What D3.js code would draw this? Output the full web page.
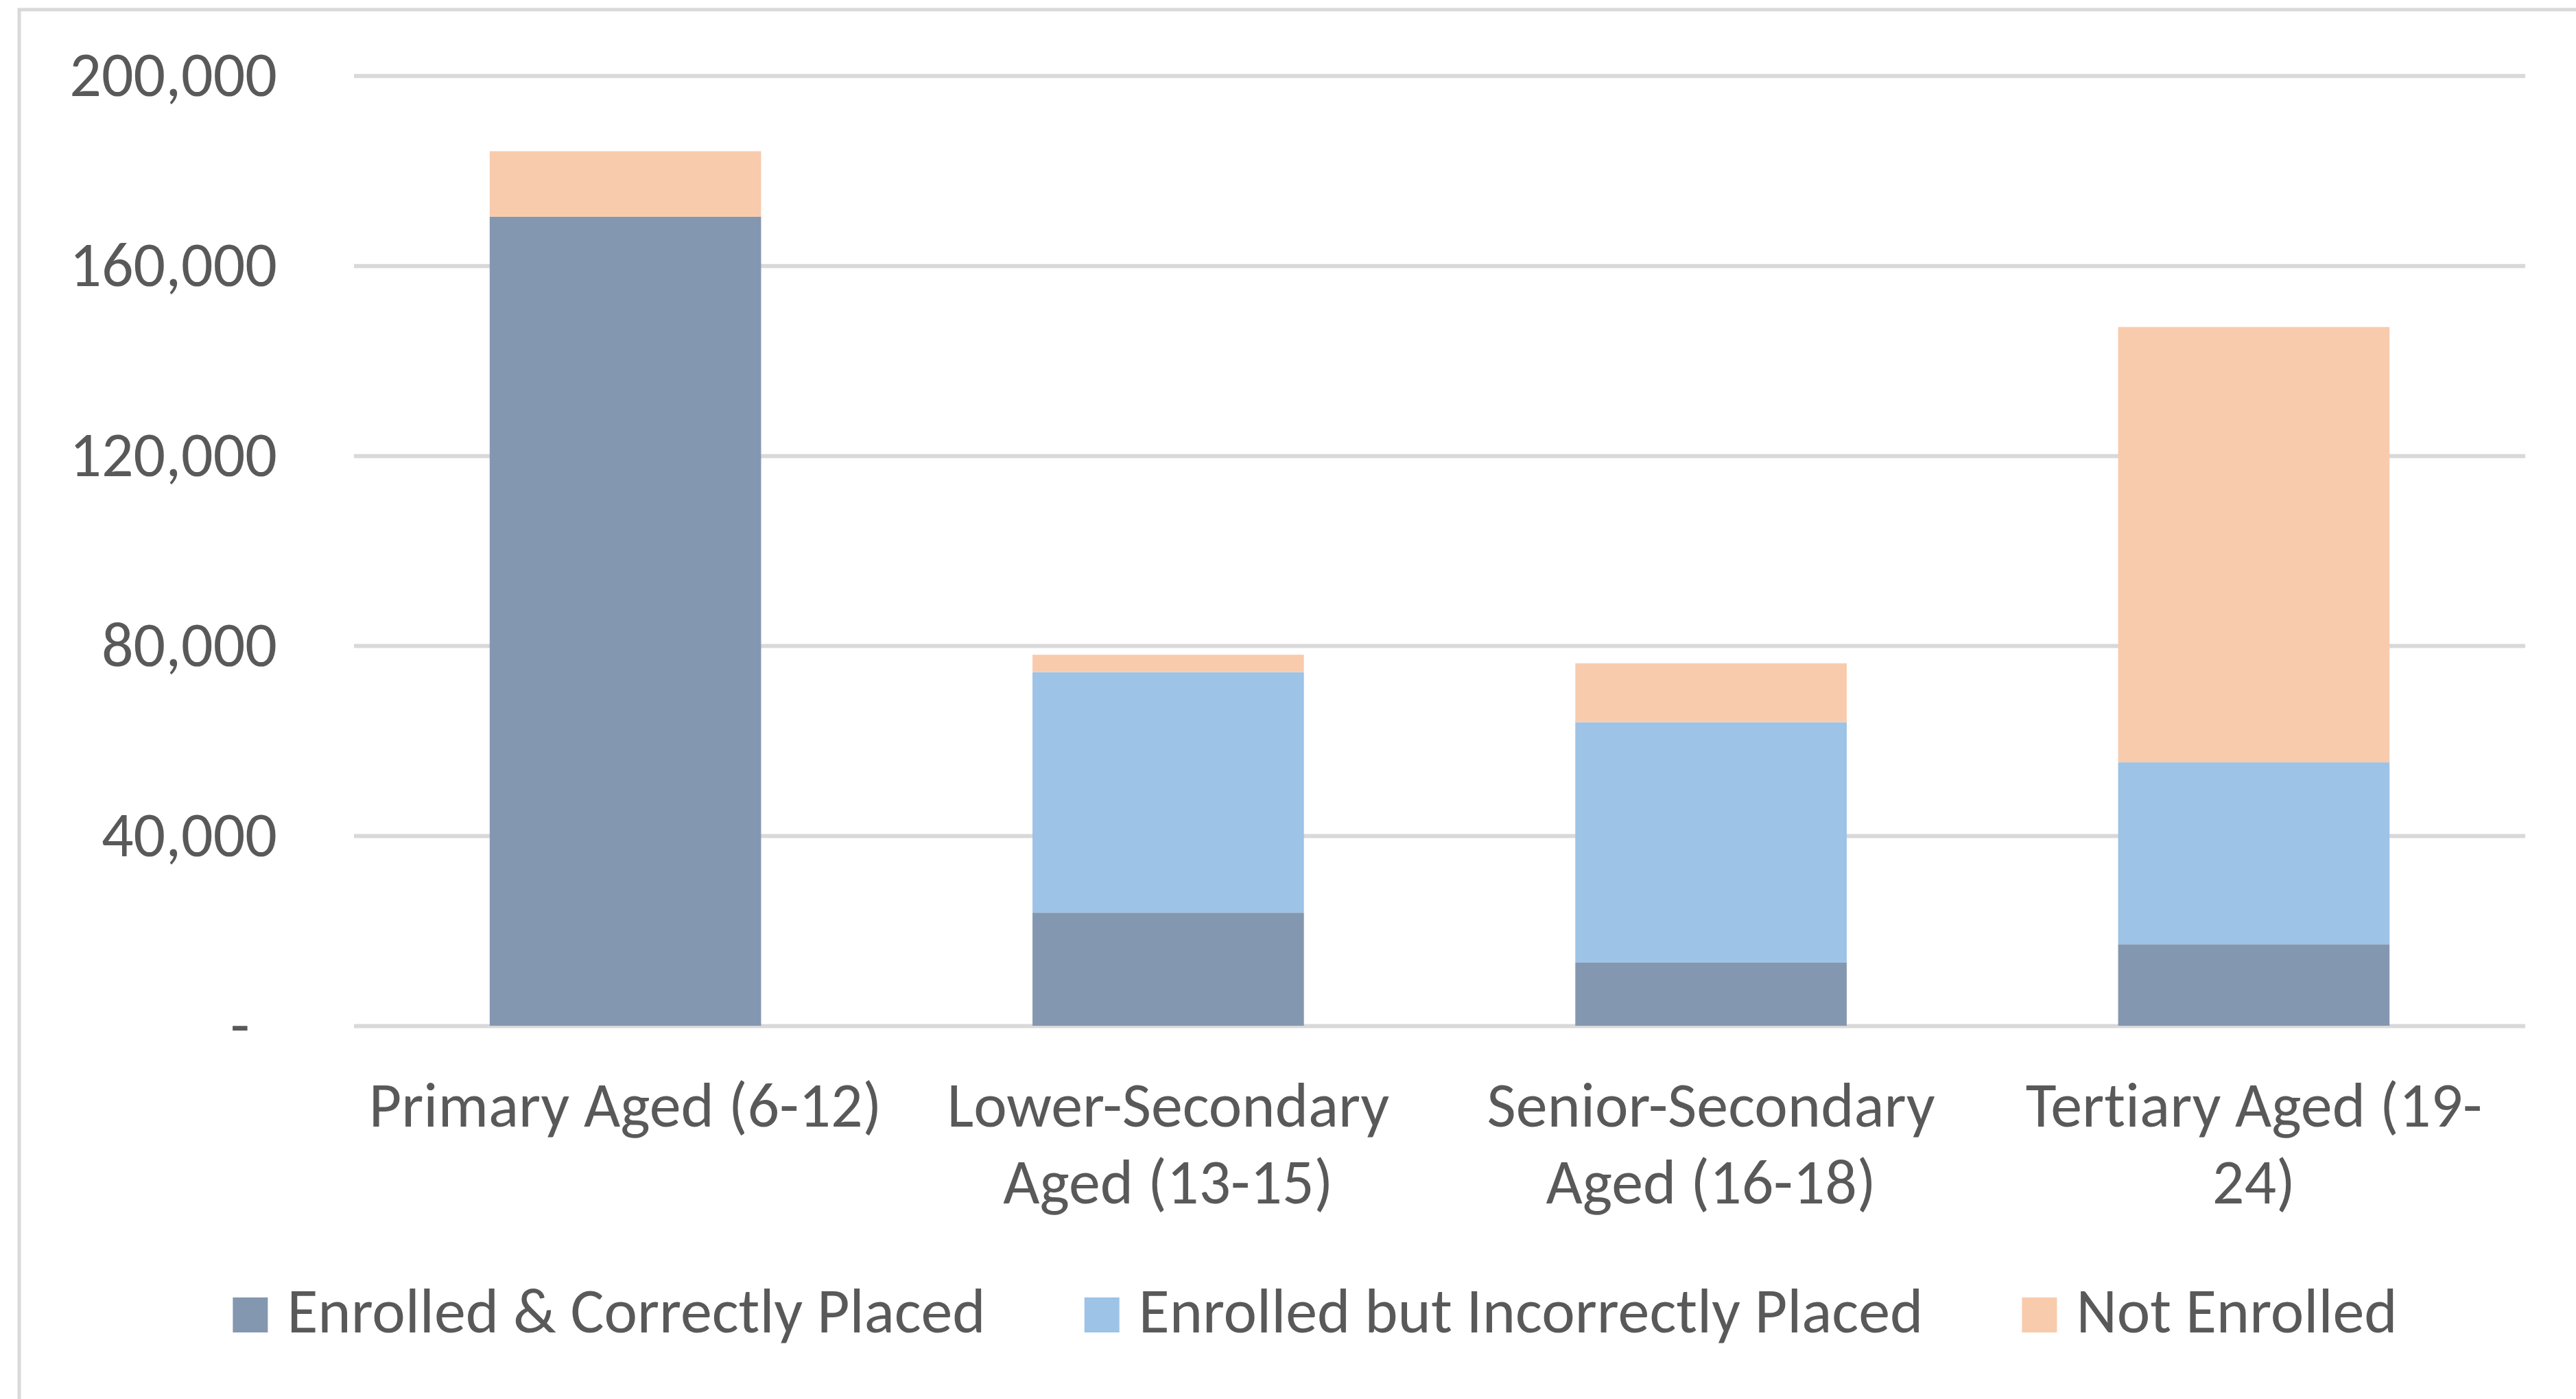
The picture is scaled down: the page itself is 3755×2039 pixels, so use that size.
<!DOCTYPE html>
<html lang="en">
<head>
  <meta charset="UTF-8" />
  <title>Enrolment by age group</title>
  <style>
    body {
      margin: 0;
      background-color: white;
    }
    svg {
      display: block;
      font-family: Carlito, Calibri, 'Open Sans', sans-serif;
      font-variant-ligatures: none;
    }
    .axis text, .cat-label, .legend text {
      fill: #595959;
      font-size: 92px;
    }
    .grid line {
      stroke: #d9d9d9;
      stroke-width: 6;
    }
  </style>
  <script src="https://d3js.org/d3.v7.min.js"></script>
</head>
<body>
  <div id="chart"></div>

  <script>
    const categories = ["Primary Aged (6-12)", "Lower-Secondary Aged (13-15)", "Senior-Secondary Aged (16-18)", "Tertiary Aged (19-24)"];
    // how excel wrapped the category names
    const categoryLines = [
      ["Primary Aged (6-12)"],
      ["Lower-Secondary", "Aged (13-15)"],
      ["Senior-Secondary", "Aged (16-18)"],
      ["Tertiary Aged (19-", "24)"]
    ];
    const seriesNames = ["Enrolled & Correctly Placed", "Enrolled but Incorrectly Placed", "Not Enrolled"];
    const correctlyPlaced = [170300, 23800, 13300, 17150];
    const incorrectlyPlaced = [0, 50650, 50600, 38300];
    const notEnrolled = [13800, 3650, 12400, 91650];
    const yTicks = [0, 40000, 80000, 120000, 160000, 200000];

    const colors = ["#8497B0", "#9DC3E6", "#F8CBAD"];

    const width = 3755;
    const height = 2039;

    const plot = {left: 516, right: 3681, top: 110.3, bottom: 1495};

    const svg = d3.select("#chart")
      .append("svg")
      .attr("width", width)
      .attr("height", height);

    // chart area border (only top and left are visible in the picture)
    svg.append("rect")
      .attr("x", 28)
      .attr("y", 14)
      .attr("width", width + 100)
      .attr("height", height + 100)
      .attr("fill", "white")
      .attr("stroke", "#d9d9d9")
      .attr("stroke-width", 5);

    const rows = categories.map((c, i) => ({
      category: c,
      [seriesNames[0]]: correctlyPlaced[i],
      [seriesNames[1]]: incorrectlyPlaced[i],
      [seriesNames[2]]: notEnrolled[i]
    }));

    const stacked = d3.stack().keys(seriesNames)(rows);

    const x = d3.scaleBand()
      .domain(categories)
      .range([plot.left, plot.right])
      .paddingInner(0.5)
      .paddingOuter(0.25);

    const y = d3.scaleLinear()
      .domain([0, 200000])
      .range([plot.bottom, plot.top]);

    const color = d3.scaleOrdinal().domain(seriesNames).range(colors);

    // gridlines
    svg.append("g")
      .attr("class", "grid")
      .attr("transform", `translate(${plot.left},0)`)
      .call(d3.axisLeft(y).tickValues(yTicks).tickSize(-(plot.right - plot.left)).tickFormat(""))
      .call(g => g.select(".domain").remove());

    // y axis labels
    const yAxis = svg.append("g")
      .attr("class", "axis")
      .attr("transform", `translate(${plot.left},0)`)
      .call(d3.axisLeft(y)
        .tickValues(yTicks)
        .tickSize(0)
        .tickPadding(112)
        .tickFormat(d => d === 0 ? "-" : d3.format(",")(d)))
      .call(g => g.select(".domain").remove())
      .attr("font-family", null)
      .attr("font-size", null);

    yAxis.selectAll("text")
      .attr("dy", "0.32em")
      .attr("dx", d => d === 0 ? -40 : 0);

    // bars
    svg.append("g")
      .selectAll("g")
      .data(stacked)
      .enter().append("g")
      .attr("fill", d => color(d.key))
      .selectAll("rect")
      .data(d => d)
      .enter().append("rect")
      .attr("x", d => x(d.data.category))
      .attr("width", x.bandwidth())
      .attr("y", d => y(d[1]))
      .attr("height", d => y(d[0]) - y(d[1]));

    // category labels
    const catGroup = svg.append("g");
    categories.forEach((c, i) => {
      const t = catGroup.append("text")
        .attr("class", "cat-label")
        .attr("text-anchor", "middle")
        .attr("x", x(c) + x.bandwidth() / 2)
        .attr("y", 1642);
      categoryLines[i].forEach((line, j) => {
        t.append("tspan")
          .attr("x", x(c) + x.bandwidth() / 2)
          .attr("dy", j === 0 ? 0 : 112)
          .text(line);
      });
    });

    // legend
    const legend = svg.append("g").attr("class", "legend");
    const markerSize = 51;
    const markerGap = 28;
    const itemGap = 144;
    let cursor = 0;
    seriesNames.forEach(name => {
      const item = legend.append("g").attr("transform", `translate(${cursor},0)`);
      item.append("rect")
        .attr("x", 0)
        .attr("y", 1942 - markerSize)
        .attr("width", markerSize)
        .attr("height", markerSize)
        .attr("fill", color(name));
      const label = item.append("text")
        .attr("x", markerSize + markerGap)
        .attr("y", 1942)
        .text(name);
      cursor += markerSize + markerGap + label.node().getComputedTextLength() + itemGap;
    });
    const legendWidth = cursor - itemGap;
    legend.attr("transform", `translate(${1917 - legendWidth / 2},0)`);
  </script>
</body>
</html>
